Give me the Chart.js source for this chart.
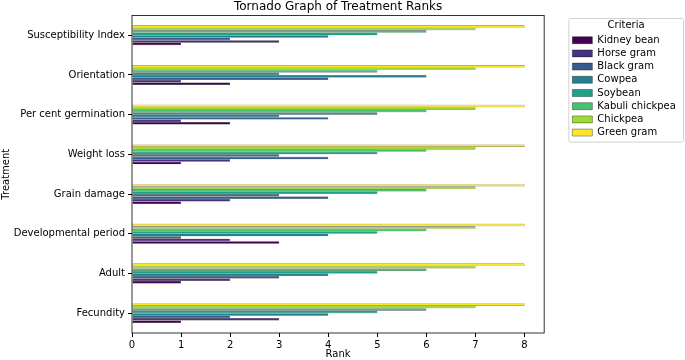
<!DOCTYPE html>
<html>
<head>
<meta charset="utf-8">
<script src="https://cdn.jsdelivr.net/npm/chart.js@4"></script>
<style>
  html, body { margin: 0; padding: 0; background: #fff; }
  #wrap { width: 685px; height: 360px; }
</style>
</head>
<body>
<div id="wrap"><canvas id="c" width="685" height="360"></canvas></div>
<script>
// Treatments, top to bottom
const treatments = ["Susceptibility Index", "Orientation", "Per cent germination", "Weight loss", "Grain damage", "Developmental period", "Adult", "Fecundity"];
// Series (legend order)
const criteria = ["Kidney bean", "Horse gram", "Black gram", "Cowpea", "Soybean", "Kabuli chickpea", "Chickpea", "Green gram"];
const kidneyBean     = [1, 2, 2, 1, 1, 3, 1, 1];
const horseGram      = [3, 1, 1, 2, 2, 2, 2, 3];
const blackGram      = [2, 4, 4, 4, 4, 1, 3, 2];
const cowpea         = [4, 6, 3, 3, 3, 4, 4, 4];
const soybean        = [5, 3, 5, 5, 5, 5, 5, 5];
const kabuliChickpea = [6, 5, 6, 6, 6, 6, 6, 6];
const chickpea       = [7, 7, 7, 7, 7, 7, 7, 7];
const greenGram      = [8, 8, 8, 8, 8, 8, 8, 8];
const rankTicks = [0, 1, 2, 3, 4, 5, 6, 7, 8];

const seriesValues = [kidneyBean, horseGram, blackGram, cowpea, soybean, kabuliChickpea, chickpea, greenGram];
const colors = ["#440154", "#46327e", "#365c8d", "#277f8e", "#1fa187", "#4ac16d", "#a0da39", "#fde725"];

// Reverse so Kidney bean sits at the bottom of each group (legend reversed back)
const datasets = criteria.map((name, i) => ({
  label: name,
  data: seriesValues[i],
  backgroundColor: colors[i],
  borderColor: "#000",
  borderWidth: 0.35,
  borderSkipped: false,
  categoryPercentage: 0.5,
  barPercentage: 1.0
})).reverse();

const frame = {
  id: "frame",
  afterDraw(chart) {
    const ctx = chart.ctx, a = chart.chartArea;
    ctx.save();
    ctx.strokeStyle = "#000";
    ctx.lineWidth = 0.8;
    ctx.strokeRect(a.left, a.top, a.right - a.left, a.bottom - a.top);
    const lg = chart.legend;
    const hb = lg.legendHitBoxes;
    const last = hb[hb.length - 1];
    ctx.strokeStyle = "#d0d0d0";
    ctx.lineWidth = 1;
    const x = hb[0].left - 3.5, y = lg.top + 18.5;
    const w = 683.5 - x, h = (last.top + last.height + 4.5) - y, r = 2;
    ctx.beginPath();
    ctx.moveTo(x + r, y);
    ctx.arcTo(x + w, y, x + w, y + h, r);
    ctx.arcTo(x + w, y + h, x, y + h, r);
    ctx.arcTo(x, y + h, x, y, r);
    ctx.arcTo(x, y, x + w, y, r);
    ctx.closePath();
    ctx.stroke();
    ctx.restore();
  }
};

const font = "'DejaVu Sans', sans-serif";
Chart.defaults.font.family = font;
Chart.defaults.color = "#000";

new Chart(document.getElementById("c"), {
  type: "bar",
  data: { labels: treatments, datasets },
  options: {
    indexAxis: "y",
    responsive: false,
    animation: false,
    layout: { padding: { left: 0, right: 2, top: 0, bottom: 0 } },
    plugins: {
      title: {
        display: true,
        text: "Tornado Graph of Treatment Ranks",
        fullSize: false,
        font: { size: 12, weight: "normal", lineHeight: 1.2 },
        padding: { top: 0, bottom: 1 }
      },
      legend: {
        position: "right",
        align: "start",
        reverse: true,
        title: { display: true, text: "Criteria", font: { size: 10 }, padding: { top: 20, bottom: 0 } },
        labels: { boxWidth: 20, boxHeight: 7, font: { size: 10 }, padding: 3.2, color: "#000" }
      },
      tooltip: { enabled: false }
    },
    scales: {
      x: {
        min: 0, max: 8.4,
        afterBuildTicks(s) { s.ticks = rankTicks.map(v => ({ value: v })); },
        ticks: { font: { size: 10 }, color: "#000", padding: 2, maxRotation: 0 },
        grid: { display: true, drawOnChartArea: false, drawTicks: true, tickLength: 4, color: "#000" },
        border: { display: false },
        title: { display: true, text: "Rank", font: { size: 10 }, padding: { top: 0, bottom: 0 } },
        afterFit(s) { s.height = 27; }
      },
      y: {
        ticks: { font: { size: 10 }, color: "#000", padding: 3 },
        grid: { display: true, offset: false, drawOnChartArea: false, drawTicks: true, tickLength: 4, color: "#000" },
        border: { display: false },
        title: { display: true, text: "Treatment", font: { size: 10 }, padding: { top: 0, bottom: 0 } },
        afterFit(s) { s.width = 132; }
      },
      gap: {
        type: "category",
        position: "right",
        display: true,
        ticks: { display: false },
        grid: { display: false },
        border: { display: false },
        afterFit(s) { s.width = 25; }
      }
    }
  },
  plugins: [frame]
});
</script>
</body>
</html>
